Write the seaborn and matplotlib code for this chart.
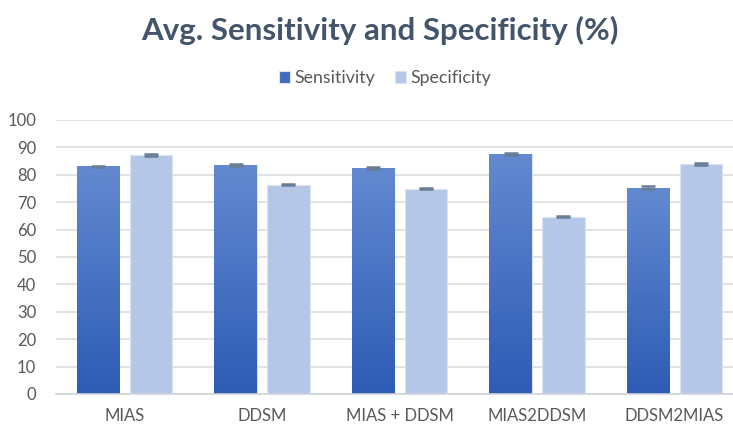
import numpy as np
import pandas as pd
import matplotlib
matplotlib.use('Agg')
import matplotlib.pyplot as plt
import seaborn as sns
from matplotlib.colors import LinearSegmentedColormap

datasets = ['MIAS', 'DDSM', 'MIAS + DDSM', 'MIAS2DDSM', 'DDSM2MIAS']
sensitivity = [83.0, 83.4, 82.4, 87.6, 75.3]
specificity = [87.2, 76.4, 74.9, 64.6, 83.8]
sens_err = [0.3, 0.4, 0.3, 0.3, 0.4]
spec_err = [0.3, 0.3, 0.3, 0.2, 0.3]

df = pd.DataFrame({
    'dataset': datasets * 2,
    'metric': ['Sensitivity'] * 5 + ['Specificity'] * 5,
    'value': sensitivity + specificity,
})

sns.set_style('white')
plt.rcParams['font.family'] = ['Lato', 'DejaVu Sans']

fig = plt.figure(figsize=(7.33, 4.25), dpi=100)
ax = fig.add_axes([0.076, 0.073, 0.938, 0.645])

sens_top, sens_bot = '#6389D0', '#2D5CB5'
spec_col = '#B4C7E7'
ax = sns.barplot(data=df, x='dataset', y='value', hue='metric',
                 palette={'Sensitivity': sens_top, 'Specificity': spec_col},
                 saturation=1, width=0.77, gap=0.2, errorbar=None, ax=ax, zorder=2,
                 edgecolor='#DCE4F2', linewidth=0.8)

# gradient fill on the sensitivity bars
cmap = LinearSegmentedColormap.from_list('sens', [sens_bot, sens_top])
grad = np.linspace(0, 1, 256).reshape(-1, 1)
n = len(datasets)
patches = ax.patches[:2 * n]
for p in patches[:n]:
    x0, w, h = p.get_x(), p.get_width(), p.get_height()
    im = ax.imshow(grad, cmap=cmap, aspect='auto', origin='lower',
                   extent=[x0, x0 + w, 0, h], zorder=2.5, vmin=0, vmax=1)
    im.set_clip_path(p)

# error bars
for p, e in zip(patches, sens_err + spec_err):
    cx = p.get_x() + p.get_width() / 2
    ax.errorbar(cx, p.get_height(), yerr=e, fmt='none', ecolor='#6A7D97',
                elinewidth=1.2, capsize=5, capthick=1.8, zorder=4)

ax.set_xlim(-0.5, n - 0.5)
ax.set_ylim(0, 100)
ax.set_yticks(range(0, 101, 10))
ax.yaxis.grid(True, color='#D9DDE3', linewidth=1.2, zorder=0)
ax.set_axisbelow(True)
for s in ['top', 'right', 'left']:
    ax.spines[s].set_visible(False)
ax.spines['bottom'].set_color('#D0D4DA')
ax.spines['bottom'].set_linewidth(1.2)
ax.tick_params(axis='both', length=0, labelsize=12, labelcolor='#595959')
ax.tick_params(axis='x', pad=10)
ax.tick_params(axis='y', pad=14)
ax.set_xlabel('')
ax.set_ylabel('')

leg = ax.legend(loc='center', bbox_to_anchor=(0.479, 1.153), ncol=2, frameon=False,
                fontsize=12.8, handlelength=0.65, handleheight=0.65, handletextpad=0.25,
                columnspacing=1.1)
leg.legend_handles[0].set_facecolor('#3F6CC2')
for t in leg.get_texts():
    t.set_color('#595959')

fig.text(0.518, 0.928, 'Avg. Sensitivity and Specificity (%)', ha='center', va='center',
         fontsize=22.5, fontweight='bold', color='#44546A')

fig.savefig('out.png', dpi=100)
